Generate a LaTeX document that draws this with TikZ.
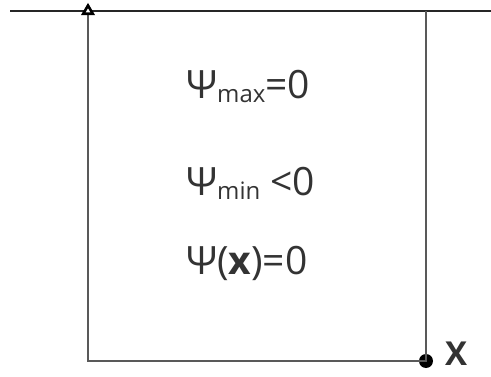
\documentclass[tikz,border=0pt]{standalone}
\usepackage{fontspec}
\setmainfont{Open Sans}
\usetikzlibrary{shapes.geometric}

\tikzset{
  wall/.style={line width=2.8pt, black!85},
  side/.style={line width=1.3pt, black!65},
  eqn/.style={font=\fontsize{39}{42}\selectfont, text=black!80, inner sep=0pt, anchor=base west},
}
\newcommand{\lowsub}[1]{\raisebox{-0.12em}{\fontsize{24}{27}\selectfont #1}}

\begin{document}
\begin{tikzpicture}[x=1pt, y=1pt]
      \useasboundingbox (0,0) rectangle (491,376);
      \coordinate (wl) at (10,365);
      \coordinate (wr) at (491,365);
      \coordinate (tl) at (88,365);
      \coordinate (tr) at (426,365);
      \coordinate (bl) at (88,15);
      \node[circle, fill=black, inner sep=0pt, minimum size=14pt] (xpt) at (426,15) {};
      \node[font=\fontsize{33}{36}\selectfont\bfseries, text=black!80, anchor=base west, inner sep=0pt] (xlab) at (445,11) {X};

      \draw[wall] (wl) -- (wr);
      \draw[side] (tl) -- (bl) -- (xpt.center) -- (tr);
      \node[regular polygon, regular polygon sides=3, draw, line width=2.6pt, fill=white, inner sep=0pt, minimum size=11pt] (pin) at (88,365) {};

      \node[eqn] (psimax) at (186,278) {Ψ\lowsub{max}=0};
      \node[eqn] (psimin) at (186,181) {Ψ\lowsub{min} <0};
      \node[eqn] (psix) at (186,102) {Ψ(\textbf{x})=0};
\end{tikzpicture}
\end{document}
